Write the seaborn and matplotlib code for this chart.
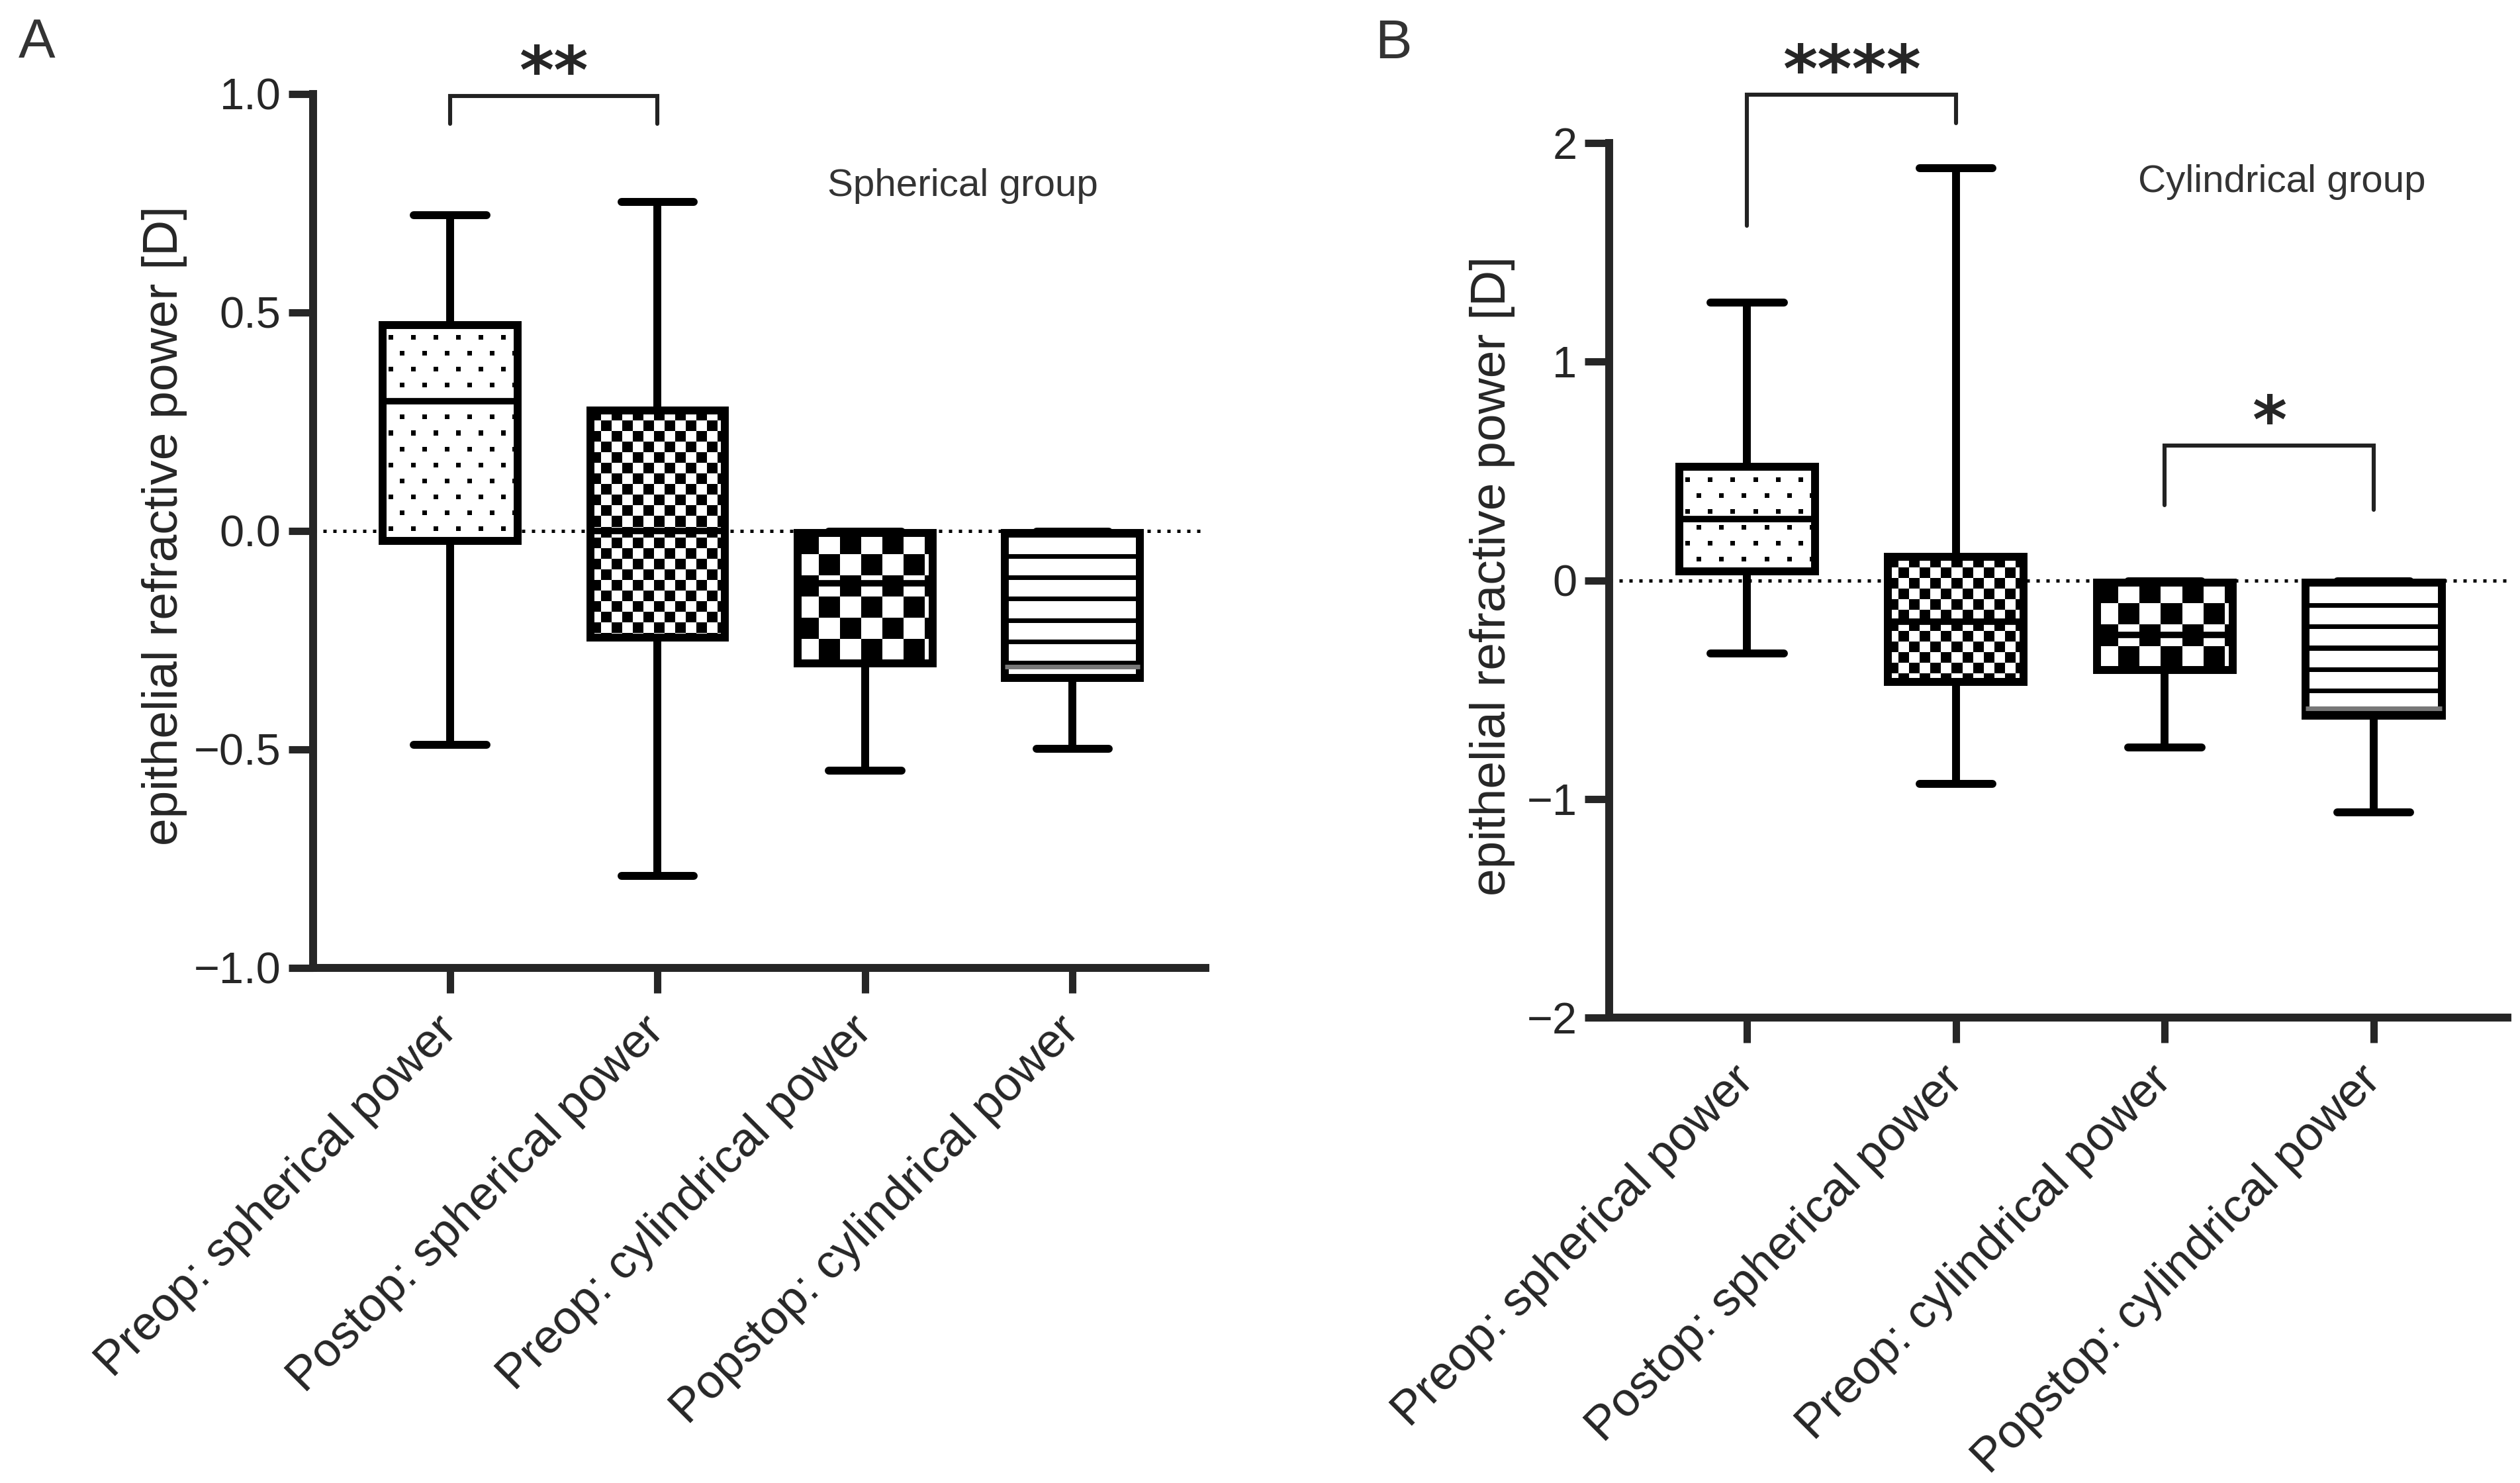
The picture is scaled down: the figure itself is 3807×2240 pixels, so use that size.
import numpy as np
import pandas as pd
import matplotlib
matplotlib.use("Agg")
import matplotlib.pyplot as plt
from matplotlib.patches import PathPatch
import seaborn as sns

# categories shared by both panels
categories = ["Preop: spherical power", "Postop: spherical power",
              "Preop: cylindrical power", "Popstop: cylindrical power"]

# five-number summaries: min, q1, median, q3, max
sph_preop_sph = [-0.49, -0.023, 0.297, 0.471, 0.723]
sph_postop_sph = [-0.79, -0.244, 0.0, 0.276, 0.753]
sph_preop_cyl = [-0.548, -0.303, -0.12, -0.005, -0.002]
sph_postop_cyl = [-0.499, -0.336, -0.31, -0.005, -0.002]

cyl_preop_sph = [-0.335, 0.04, 0.28, 0.518, 1.27]
cyl_postop_sph = [-0.93, -0.465, -0.19, 0.106, 1.885]
cyl_preop_cyl = [-0.766, -0.41, -0.25, -0.01, -0.005]
cyl_postop_cyl = [-1.06, -0.62, -0.585, -0.01, -0.005]

# significance annotations: (left cat, right cat, top, left leg end, right leg end, label)
sig_a = [(0, 1, 0.995, 0.932, 0.932, "**")]
sig_b = [(0, 1, 2.221, 1.62, 2.09, "****"),
         (2, 3, 0.615, 0.344, 0.322, "*")]

patterns = ["dots", "checker_small", "checker_big", "hlines"]

sns.set_style("ticks")
plt.rcParams["font.family"] = ["Liberation Sans", "DejaVu Sans"]
plt.rcParams["axes.unicode_minus"] = True

LW = 4.3


def long_frame(groups):
    rows = []
    for name, vals in zip(categories, groups):
        for v in vals:
            rows.append({"group": name, "value": v})
    return pd.DataFrame(rows)


def pattern_image(kind, w, h):
    yy, xx = np.mgrid[0:h, 0:w]
    if kind == "dots":
        row = (yy + 8) // 24
        ry = (yy + 8) % 24
        shift = np.where(row % 2 == 0, 0, 17)
        rx = (xx + 8 + shift) % 34
        ink = (ry < 7) & (rx < 7)
    elif kind == "checker_small":
        ink = ((xx // 16) + (yy // 16)) % 2 == 0
    elif kind == "checker_big":
        ink = ((xx // 32) + (yy // 32)) % 2 == 0
    else:
        ink = (yy % 32) < 7
    return np.where(ink, 0.0, 1.0)


def draw_panel(ax, groups, ylim, yticks, sig, note, note_xy):
    df = long_frame(groups)
    ax.axhline(0, color="black", lw=1.8, ls=(0, (1, 2)), zorder=0.5)
    sns.boxplot(data=df, x="group", y="value", order=categories, whis=(0, 100),
                width=0.65, color="white", linecolor="black", linewidth=LW,
                fliersize=0, ax=ax, medianprops=dict(linewidth=3.5))
    xlim = (-0.66, 3.64)
    ax.set_xlim(*xlim)
    ax.set_ylim(*ylim)

    cont = ax.containers[-1]
    boxes = getattr(cont, "boxes", [p for p in ax.patches if isinstance(p, PathPatch)])
    for patch, kind in zip(boxes, patterns):
        bb = patch.get_path().get_extents()
        (px0, py0), (px1, py1) = ax.transData.transform([[bb.x0, bb.y0], [bb.x1, bb.y1]])
        w = max(int(round(abs(px1 - px0))), 1)
        h = max(int(round(abs(py1 - py0))), 1)
        img = pattern_image(kind, w, h)
        im = ax.imshow(img, cmap="gray", vmin=0, vmax=1,
                       extent=[bb.x0, bb.x1, bb.y0, bb.y1], origin="upper",
                       aspect="auto", interpolation="nearest",
                       zorder=patch.get_zorder() - 0.1)
        im.set_clip_path(patch)
        patch.set_facecolor("none")
    for cap in getattr(cont, "caps", []):
        c = np.mean(cap.get_xdata())
        cap.set_xdata([c - 0.175, c + 0.175])
        cap.set_linewidth(LW)
    meds = getattr(cont, "medians", [])
    if len(meds) == 4:
        meds[3].set_color("#777777")
        meds[3].set_linewidth(2.5)

    ax.set_xlim(*xlim)
    ax.set_ylim(*ylim)
    ax.set_yticks(yticks)
    ax.set_xticks(range(len(categories)))
    ax.set_xticklabels(categories, rotation=45, ha="right", va="center",
                       rotation_mode="anchor", fontsize=26)
    ax.tick_params(axis="y", labelsize=24, length=13.5, width=4, pad=4)
    ax.tick_params(axis="x", length=13.5, width=4, pad=17)
    ax.set_xlabel("")
    ax.set_ylabel("epithelial refractive power [D]", fontsize=27)
    for s in ["left", "bottom"]:
        ax.spines[s].set_linewidth(LW)
    sns.despine(ax=ax)

    for x0, x1, top, l0, l1, label in sig:
        ax.plot([x0, x0, x1, x1], [l0, top, top, l1], color="#222222", lw=2.2,
                clip_on=False, solid_joinstyle="miter")
        ax.annotate(label, xy=((x0 + x1) / 2, top), xytext=(0, -6),
                    textcoords="offset points", ha="center", va="bottom",
                    fontsize=36, fontweight="bold", family="DejaVu Sans",
                    annotation_clip=False)
    ax.text(note_xy[0], note_xy[1], note, ha="center", va="center",
            fontsize=21, color="#333333")


fig = plt.figure(figsize=(3807 / 200, 2240 / 200), dpi=200)
ax_a = fig.add_axes([473 / 3807, 1 - 1462 / 2240, 1348 / 3807, 1320 / 2240])
ax_b = fig.add_axes([2431 / 3807, 1 - 1537 / 2240, 1357 / 3807, 1321 / 2240])

draw_panel(ax_a, [sph_preop_sph, sph_postop_sph, sph_preop_cyl, sph_postop_cyl],
           (-1, 1), [-1, -0.5, 0, 0.5, 1], sig_a, "Spherical group", (2.47, 0.79))
draw_panel(ax_b, [cyl_preop_sph, cyl_postop_sph, cyl_preop_cyl, cyl_postop_cyl],
           (-2, 2), [-2, -1, 0, 1, 2], sig_b, "Cylindrical group", (2.56, 1.82))

ax_a.yaxis.set_label_coords(-0.141, 0.506)
ax_b.yaxis.set_label_coords(-0.105, 0.505)

fig.text(56 / 3807, 1 - 65 / 2240, "A", fontsize=30, color="#333333", ha="center", va="center")
fig.text(2105 / 3807, 1 - 66 / 2240, "B", fontsize=30, color="#333333", ha="center", va="center")

fig.savefig("out.png", dpi=200, facecolor="white")
